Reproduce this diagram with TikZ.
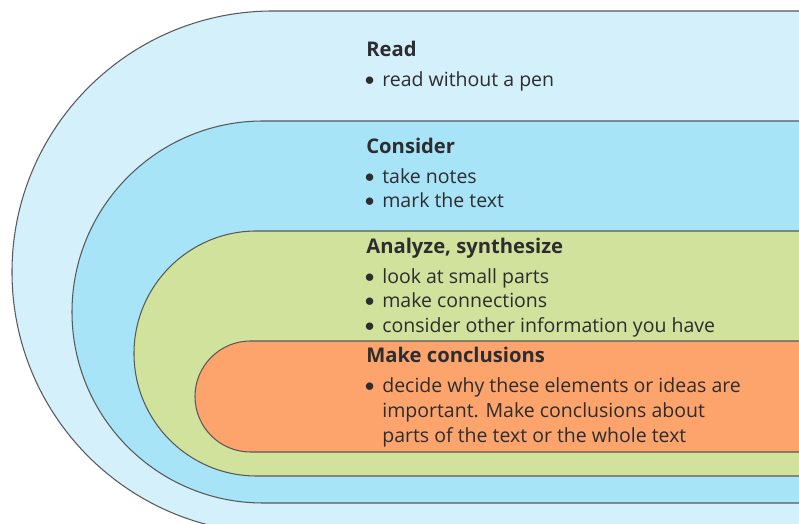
\documentclass[tikz,border=0pt]{standalone}
\usepackage{fontspec}
\setmainfont{Open Sans}
\usetikzlibrary{positioning}
\definecolor{readblue}{RGB}{212,240,250}
\definecolor{considerblue}{RGB}{168,228,247}
\definecolor{analyzegreen}{RGB}{208,226,156}
\definecolor{concludeorange}{RGB}{252,164,108}
\definecolor{inktext}{RGB}{45,45,48}
\tikzset{layer/.style={draw=black!65,line width=0.6pt},
  head/.style={anchor=base west,inner sep=0pt,text=inktext,
    font=\bfseries\fontsize{11.5}{14}\selectfont},
  item/.style={anchor=base west,inner sep=0pt,text=inktext,
    font=\fontsize{11.1}{14}\selectfont}}
\newcommand{\bul}{\makebox[9.1pt][l]{\hspace*{-0.8pt}\raisebox{0.6pt}{$\bullet$}}}
\newcommand{\cont}{\hspace*{9.1pt}}

\begin{document}
\begin{tikzpicture}[x=0.02cm,y=0.02cm]
\clip (0,0) rectangle (799,524);
\fill[white] (0,0) rectangle (799,524);

\draw[layer,fill=readblue] (830,513) -- (273,513)
  arc[start angle=90,end angle=270,radius=261] -- (830,-9) -- cycle;
\draw[layer,fill=considerblue] (830,403) -- (263,403)
  arc[start angle=90,end angle=270,radius=191] -- (830,21) -- cycle;
\draw[layer,fill=analyzegreen] (830,293) -- (256.5,293)
  arc[start angle=90,end angle=270,radius=122.5] -- (830,48) -- cycle;
\draw[layer,fill=concludeorange] (830,183) -- (250.5,183)
  arc[start angle=90,end angle=270,radius=55.5] -- (830,72) -- cycle;

\node[head] (readhead) at (366,467) {Read};
\node[item] (read1) at ([yshift=-16.8pt]readhead.base west) {\bul read without a pen};

\node[head] (considerhead) at (366,370) {Consider};
\node[item] (consider1) at ([yshift=-16.6pt]considerhead.base west) {\bul take notes};
\node[item] (consider2) at ([yshift=-14pt]consider1.base west) {\bul mark the text};

\node[head] (analyzehead) at (366,270) {Analyze, synthesize};
\node[item] (analyze1) at ([yshift=-16.6pt]analyzehead.base west) {\bul look at small parts};
\node[item] (analyze2) at ([yshift=-14pt]analyze1.base west) {\bul make connections};
\node[item] (analyze3) at ([yshift=-14pt]analyze2.base west) {\bul consider other information you have};

\node[head] (concludehead) at (366,161) {Make conclusions};
\node[item] (conclude1) at ([yshift=-17pt]concludehead.base west) {\bul decide why these elements or ideas are};
\node[item] (conclude2) at ([yshift=-14pt]conclude1.base west) {\cont important. Make conclusions about};
\node[item] (conclude3) at ([yshift=-14pt]conclude2.base west) {\cont parts of the text or the whole text};
\end{tikzpicture}
\end{document}
